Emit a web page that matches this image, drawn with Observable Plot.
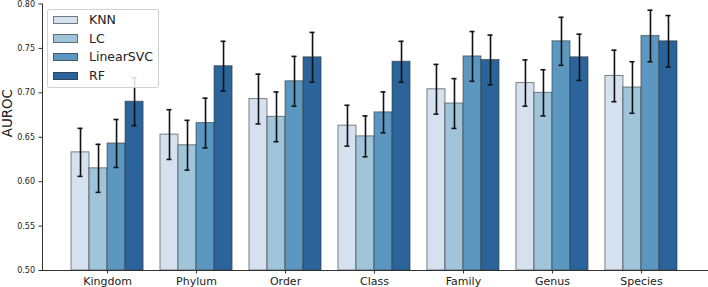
<!DOCTYPE html>
<html>
<head>
<meta charset="utf-8">
<script src="https://cdn.jsdelivr.net/npm/d3@7"></script>
<script src="https://cdn.jsdelivr.net/npm/@observablehq/plot@0.6"></script>
<style>
  html, body { margin: 0; padding: 0; background: white; }
  #chart { position: relative; width: 708px; height: 287px; font-family: "DejaVu Sans", sans-serif; }
  #chart svg { display: block; }
  .legend {
    position: absolute; left: 47px; top: 9px; width: 110px; height: 77px;
    border: 1px solid rgba(204, 204, 204, 0.9); border-radius: 3px;
    background: rgba(255, 255, 255, 0.85);
  }
  .legend .swatch { position: absolute; left: 4.7px; width: 23.6px; height: 6.3px; border: 1px solid rgba(51, 51, 51, 0.6); }
  .legend .name { position: absolute; left: 41px; height: 16px; line-height: 16px; font-size: 12.5px; color: #222; white-space: nowrap; }
</style>
</head>
<body>
<div id="chart"></div>
<script>
// Taxonomic levels and classifiers
const taxa = ["Kingdom", "Phylum", "Order", "Class", "Family", "Genus", "Species"];
const models = ["KNN", "LC", "LinearSVC", "RF"];
const colors = ["#d5e1ef", "#a0c4d9", "#5b97c1", "#2b639b"];

// Mean AUROC per taxonomic level
const knn       = [0.633, 0.653, 0.693, 0.663, 0.704, 0.711, 0.719];
const lc        = [0.615, 0.641, 0.673, 0.651, 0.688, 0.700, 0.706];
const linearSvc = [0.643, 0.666, 0.713, 0.678, 0.741, 0.758, 0.764];
const rf        = [0.690, 0.730, 0.740, 0.735, 0.737, 0.740, 0.758];

// Error bar half-widths
const knnErr       = [0.027, 0.028, 0.028, 0.023, 0.028, 0.026, 0.029];
const lcErr        = [0.027, 0.028, 0.028, 0.023, 0.028, 0.026, 0.029];
const linearSvcErr = [0.027, 0.028, 0.028, 0.023, 0.028, 0.027, 0.029];
const rfErr        = [0.027, 0.028, 0.028, 0.023, 0.028, 0.026, 0.029];

const yTicks = [0.50, 0.55, 0.60, 0.65, 0.70, 0.75, 0.80];
const yDomain = [0.5, 0.8];

const series = [
  {model: "KNN", values: knn, errs: knnErr},
  {model: "LC", values: lc, errs: lcErr},
  {model: "LinearSVC", values: linearSvc, errs: linearSvcErr},
  {model: "RF", values: rf, errs: rfErr}
];
const rows = series.flatMap(s => taxa.map((taxon, i) => ({
  taxon, model: s.model, value: s.values[i], err: s.errs[i]
})));

// The facet row spans the groups only; the axes sit a little outside it.
const axisGap = 29;

const chart = Plot.plot({
  width: 708,
  height: 287,
  marginTop: 3.5,
  marginBottom: 17,
  marginLeft: 71,
  marginRight: 31,
  style: {fontFamily: "DejaVu Sans", background: "white", overflow: "visible", color: "#222"},
  fx: {domain: taxa, paddingInner: 0.19, paddingOuter: 0, round: false, label: null},
  x: {domain: models, padding: 0, round: false, axis: null},
  y: {domain: yDomain},
  color: {domain: models, range: colors},
  marks: [
    Plot.barY(rows, {
      fx: "taxon", x: "model", y1: yDomain[0], y2: "value", fill: "model",
      stroke: "#333", strokeOpacity: 0.6, strokeWidth: 1
    }),
    Plot.ruleX(rows, {
      fx: "taxon", x: "model", y1: d => d.value - d.err, y2: d => d.value + d.err,
      stroke: "#111", strokeWidth: 1.6
    }),
    Plot.tickY(rows, {fx: "taxon", x: "model", y: d => d.value - d.err, inset: 6.5, stroke: "#111", strokeWidth: 1.6}),
    Plot.tickY(rows, {fx: "taxon", x: "model", y: d => d.value + d.err, inset: 6.5, stroke: "#111", strokeWidth: 1.6}),
    Plot.axisY({ticks: yTicks, tickFormat: ".2f", tickSize: 3.5, tickPadding: 4, fontSize: 8, label: null, stroke: "#333", dx: -axisGap}),
    Plot.axisFx({anchor: "bottom", tickSize: 3.5, tickPadding: 3, fontSize: 11, label: null, stroke: "#333"}),
    Plot.frame({anchor: "left", facet: "super", stroke: "#333", dx: -axisGap}),
    Plot.frame({anchor: "bottom", facet: "super", stroke: "#333", insetLeft: -axisGap, insetRight: -30}),
    Plot.text(["AUROC"], {frameAnchor: "left", rotate: -90, dx: -35 - axisGap, fontSize: 13.4, fill: "#222", facet: "super"})
  ]
});

const host = document.getElementById("chart");
host.appendChild(chart);

// Legend box in the upper-left corner of the plot area
const legend = document.createElement("div");
legend.className = "legend";
models.forEach((m, i) => {
  const sw = document.createElement("div");
  sw.className = "swatch";
  sw.style.top = (5.7 + i * 18.7) + "px";
  sw.style.background = colors[i];
  legend.appendChild(sw);
  const name = document.createElement("div");
  name.className = "name";
  name.style.top = (5.7 + 4.15 - 8 + i * 18.7) + "px";
  name.textContent = m;
  legend.appendChild(name);
});
host.appendChild(legend);
</script>
</body>
</html>
